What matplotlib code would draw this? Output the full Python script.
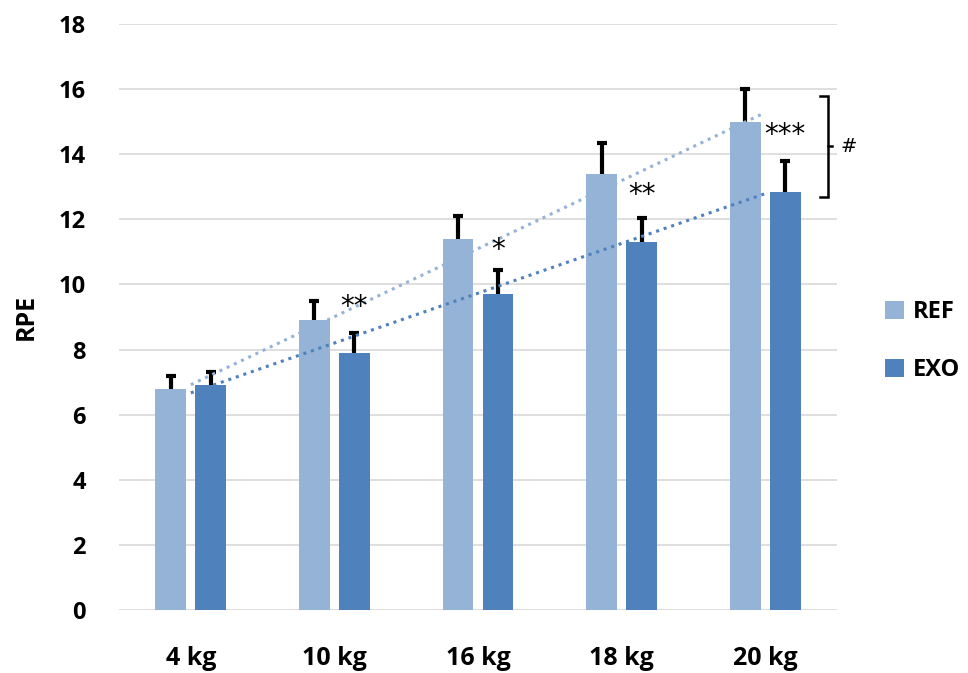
import matplotlib
matplotlib.use("Agg")
import matplotlib.pyplot as plt
import numpy as np

# data
loads = ["4 kg", "10 kg", "16 kg", "18 kg", "20 kg"]
ref_mean = [6.8, 8.9, 11.4, 13.4, 15.0]
ref_sd = [0.4, 0.6, 0.7, 0.95, 1.0]
exo_mean = [6.9, 7.9, 9.7, 11.3, 12.85]
exo_sd = [0.4, 0.6, 0.75, 0.75, 0.95]
stars = ["", "**", "*", "**", "***"]
star_y = [None, 9.3, 11.05, 12.75, 14.6]

REF_COLOR = "#95B3D7"
EXO_COLOR = "#4F81BD"

plt.rcParams["font.family"] = ["Open Sans", "DejaVu Sans"]

fig = plt.figure(figsize=(9.68, 6.73), dpi=100)
ax = fig.add_axes([119 / 968, 1 - 610 / 673, 718 / 968, 586 / 673])

x = np.arange(len(loads))
width = 0.215
offset = 0.139

ax.bar(x - offset, ref_mean, width, color=REF_COLOR, label="REF", zorder=2)
ax.bar(x + offset, exo_mean, width, color=EXO_COLOR, label="EXO", zorder=2)

# upper-only error bars
cap = 0.035
for xs, m, sd in [(x - offset, ref_mean, ref_sd), (x + offset, exo_mean, exo_sd)]:
    tops = np.array(m) + np.array(sd)
    ax.vlines(xs, m, tops, color="black", linewidth=3, zorder=3)
    ax.hlines(tops, xs - cap, xs + cap, color="black", linewidth=3, zorder=3)

# linear trendlines
for vals, col in [(ref_mean, REF_COLOR), (exo_mean, EXO_COLOR)]:
    k, b = np.polyfit(x, vals, 1)
    ax.plot([x[0], x[-1]], [b, k * x[-1] + b], linestyle=(0, (1, 1.6)), color=col,
            linewidth=2.2, zorder=4)

for xi, s, sy in zip(x, stars, star_y):
    if s:
        ax.text(xi + offset, sy, s, ha="center", va="center", fontsize=20,
                family=["DejaVu Sans"], zorder=5)

# bracket between REF and EXO at 20 kg
bx = len(loads) - 0.56
top, bot, mid = 15.8, 12.7, 14.25
ax.plot([bx - 0.06, bx, bx, bx - 0.06], [top, top, bot, bot], color="black",
        linewidth=1.8, clip_on=False, solid_joinstyle="miter")
ax.plot([bx, bx + 0.025], [mid, mid], color="black", linewidth=1.8, clip_on=False)
ax.text(bx + 0.085, mid, "#", ha="left", va="center", fontsize=14,
        family=["DejaVu Sans"], clip_on=False)

ax.set_ylim(0, 18)
ax.set_xlim(-0.5, len(loads) - 0.5)
ax.set_yticks(np.arange(0, 19, 2))
ax.set_xticks(x)
ax.set_xticklabels(loads, fontsize=18, fontweight="bold")
ax.tick_params(axis="y", labelsize=17, length=0, pad=24)
ax.tick_params(axis="x", length=0, pad=26)
for lab in ax.get_yticklabels():
    lab.set_fontweight("bold")

ax.yaxis.grid(True, color="#d9d9d9", linewidth=1.2, zorder=0)
ax.set_axisbelow(True)
for sp in ax.spines.values():
    sp.set_visible(False)

ax.set_ylabel("RPE", fontsize=18, fontweight="bold", labelpad=14)

fig.legend(loc="center left", bbox_to_anchor=(864 / 968, 1 - 341 / 673), frameon=False,
           prop={"size": 17, "weight": "bold"}, handlelength=0.8, handleheight=0.8,
           handletextpad=0.35, labelspacing=1.45)

fig.savefig("out.png", dpi=100)
